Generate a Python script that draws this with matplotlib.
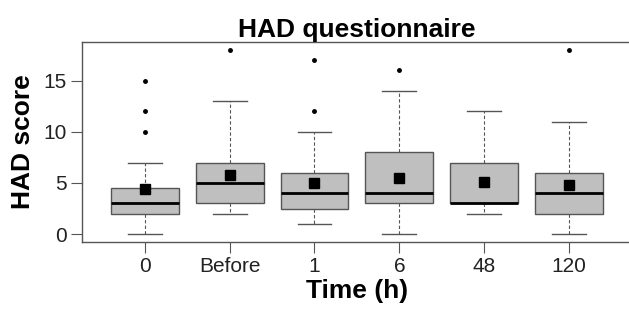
import matplotlib
matplotlib.use("Agg")
from matplotlib import pyplot as plt

plt.rcParams['font.family'] = ['Liberation Sans', 'DejaVu Sans']

# data
groups = ["0", "Before", "1", "6", "48", "120"]
whisker_low = [0, 2, 1, 0, 2, 0]
q1 = [2, 3, 2.5, 3, 3, 2]
medians = [3, 5, 4, 4, 3, 4]
q3 = [4.5, 7, 6, 8, 7, 6]
whisker_high = [7, 13, 10, 14, 12, 11]
outliers = [[10, 12, 15], [18], [12, 17], [16], [], [18]]
means = [4.4, 5.8, 4.95, 5.45, 5.1, 4.8]


def main():
    stats = []
    for i, name in enumerate(groups):
        stats.append({
            "label": name,
            "whislo": whisker_low[i],
            "q1": q1[i],
            "med": medians[i],
            "q3": q3[i],
            "whishi": whisker_high[i],
            "fliers": outliers[i],
        })

    fig = plt.figure(figsize=(6.29, 3.12), dpi=100)
    ax = fig.add_axes([0.130, 0.224, 0.875, 0.641])

    edge = "#555555"
    positions = list(range(1, len(groups) + 1))
    ax.bxp(stats, positions=positions, widths=0.8, patch_artist=True,
           boxprops=dict(facecolor="#bfbfbf", edgecolor=edge, linewidth=1),
           medianprops=dict(color="black", linewidth=2),
           whiskerprops=dict(color=edge, linestyle=(0, (3, 2)), linewidth=0.8),
           capprops=dict(color=edge, linewidth=1),
           capwidths=0.4,
           flierprops=dict(marker="o", markersize=2.5, markerfacecolor="black",
                           markeredgecolor="black"))
    ax.plot(positions, means, linestyle="none", marker="s", markersize=6.5,
            color="black")

    ax.set_xlim(0.26, 6.74)
    ax.set_ylim(-0.78, 18.77)
    ax.set_yticks([0, 5, 10, 15])
    ax.set_xticks(positions)
    ax.set_xticklabels(groups)
    ax.tick_params(axis="both", labelsize=15, length=8, color=edge,
                   labelcolor="#222222", pad=3)

    for s in ax.spines.values():
        s.set_color(edge)
        s.set_linewidth(1)

    ax.set_title("HAD questionnaire", fontsize=19, fontweight="bold", pad=2)
    ax.set_xlabel("Time (h)", fontsize=19, fontweight="bold", labelpad=2)
    ax.set_ylabel("HAD score", fontsize=19, fontweight="bold", labelpad=6)

    fig.savefig("out.png", dpi=100)


if __name__ == '__main__':
    main()
